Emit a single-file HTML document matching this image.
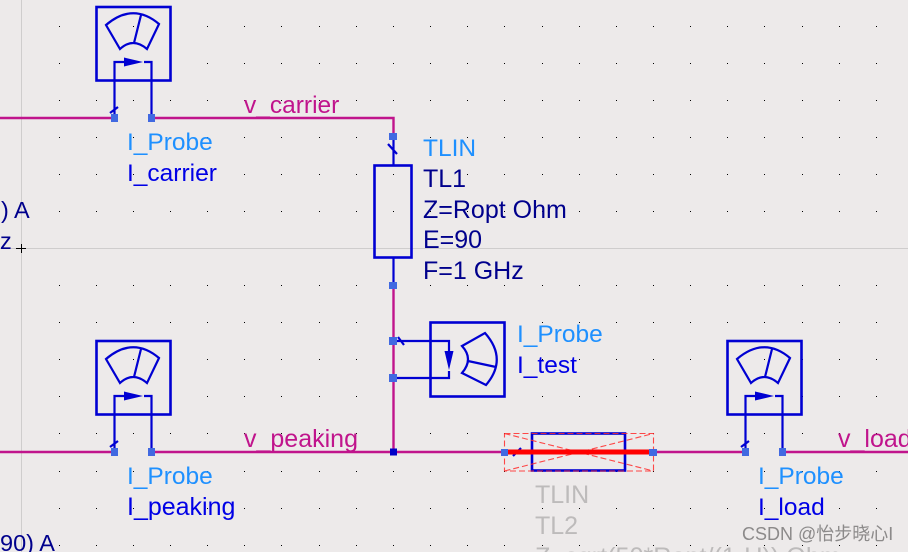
<!DOCTYPE html>
<html><head><meta charset="utf-8"><style>
html,body{margin:0;padding:0;background:#edeaea;width:908px;height:552px;overflow:hidden}
svg{display:block}
text{font-family:"Liberation Sans","Noto Sans CJK SC",sans-serif;font-size:25px}
.l{fill:#1e90ff}.n{fill:#0000e6}.w{fill:#c0148c}.g{fill:#bdbbbb}
.b{fill:none;stroke:#0000d2;stroke-width:2.2}
.x{fill:none;stroke:#0000d2;stroke-width:2.6}
.t{fill:#0000d2}
.nd{fill:#4169e1}
</style></head><body>
<svg width="908" height="552" viewBox="0 0 908 552" xmlns="http://www.w3.org/2000/svg">
<defs>
<path id="row" fill="#000" d="M21 0h1v1h-1zM59 0h1v1h-1zM96 0h1v1h-1zM133 0h1v1h-1zM170 0h1v1h-1zM207 0h1v1h-1zM244 0h1v1h-1zM281 0h1v1h-1zM319 0h1v1h-1zM356 0h1v1h-1zM393 0h1v1h-1zM430 0h1v1h-1zM467 0h1v1h-1zM504 0h1v1h-1zM542 0h1v1h-1zM579 0h1v1h-1zM616 0h1v1h-1zM653 0h1v1h-1zM690 0h1v1h-1zM727 0h1v1h-1zM764 0h1v1h-1zM802 0h1v1h-1zM839 0h1v1h-1zM876 0h1v1h-1z"/>
<g id="probe">
<rect class="x" x="96.500" y="7" width="74" height="73.500"/>
<path class="b" d="M106 25Q133 2 159 24L147 49Q133 37 120 49ZM134 43L141 15"/>
<path class="b" d="M114.500 118V62H124M144 62H151.500V118M110 113L118 107"/>
<path class="t" d="M124 57.500L143 62L124 66.500Z"/>
<rect class="nd" x="111" y="114" width="7" height="8"/>
<rect class="nd" x="148" y="114" width="7" height="8"/>
</g>
</defs>
<use href="#row" y="26"/><use href="#row" y="63"/><use href="#row" y="100"/><use href="#row" y="137"/><use href="#row" y="174"/><use href="#row" y="211"/><use href="#row" y="248"/><use href="#row" y="285"/><use href="#row" y="322"/><use href="#row" y="359"/><use href="#row" y="396"/><use href="#row" y="433"/><use href="#row" y="471"/><use href="#row" y="508"/><use href="#row" y="545"/>
<path d="M21.500 0V552M0 248.500H908" stroke="#cfcdcd" stroke-width="1" fill="none"/>
<path d="M16 248.500H26M21.500 244V253" stroke="#000" stroke-width="1" fill="none"/>

<path d="M0 118H114M151 118H393.500V136M393.500 285V452M0 452H114M151 452H504M653 452H746M783 452H908" fill="none" stroke="#c0148c" stroke-width="2.4"/>

<use href="#probe"/>
<use href="#probe" y="334"/>
<use href="#probe" x="631" y="334"/>

<rect class="x" x="374.500" y="165.500" width="37" height="92"/>
<path class="b" d="M393.500 136V165M393.500 257V285M388 144L397 154"/>
<rect class="nd" x="389" y="133" width="8" height="7"/>
<rect class="nd" x="389" y="282" width="8" height="7"/>

<rect class="x" x="430.500" y="322.500" width="74" height="74"/>
<path class="b" d="M393 341H449V351M449 371V378H393M398 337L404 345"/>
<path class="t" d="M444.500 351H453.500L449 370Z"/>
<path class="b" d="M462 346L485 333Q508 359 486 385L462 373Q474 359 462 346ZM468 361L496 367"/>
<rect class="nd" x="389" y="337" width="8" height="8"/>
<rect class="nd" x="389" y="374" width="8" height="8"/>
<rect x="390" y="448.500" width="7" height="7" fill="#0000c8"/>

<rect class="x" x="532" y="433.500" width="93" height="37"/>
<path d="M513 456L521 448" class="b"/>
<path d="M504.500 433.500H653.500V471H504.500ZM504.500 433.500L653.500 471M504.500 471L653.500 433.500" fill="none" stroke="#ff2a2a" stroke-width="1.1" stroke-dasharray="6 3" opacity=".85"/>
<path d="M504 452H653" stroke="#ff0000" stroke-width="5" fill="none"/>
<rect class="nd" x="501" y="449" width="7" height="7"/>
<rect class="nd" x="649" y="449" width="8" height="7"/>

<text x="244" y="113" class="w" style="font-size:24.500px">v_carrier</text>
<text x="244" y="447" class="w">v_peaking</text>
<text x="838" y="447" class="w">v_load</text>

<text x="127" y="150" class="l" style="font-size:24.500px">I_Probe</text>
<text x="127" y="181" class="n" style="font-size:24.500px">I_carrier</text>
<text x="423" y="156" class="l" style="font-size:24.500px">TLIN</text>
<text x="423" y="187" fill="#00008c">TL1</text>
<text x="423" y="218" fill="#00008c">Z=Ropt Ohm</text>
<text x="423" y="248" fill="#00008c">E=90</text>
<text x="423" y="279" fill="#00008c">F=1 GHz</text>
<text x="517" y="342" class="l" style="font-size:24.500px">I_Probe</text>
<text x="517" y="373" class="n" style="font-size:24.500px">I_test</text>
<text x="127" y="484" class="l" style="font-size:24.500px">I_Probe</text>
<text x="127" y="515" class="n">I_peaking</text>
<text x="758" y="484" class="l" style="font-size:24.500px">I_Probe</text>
<text x="758" y="515" class="n" style="font-size:24.500px">I_load</text>

<text x="535" y="503" class="g">TLIN</text>
<text x="535" y="534" class="g">TL2</text>
<text x="535" y="565" class="g" style="font-size:25.200px">Z=sqrt(50*Ropt/(1-U)) Ohm</text>

<text x="1" y="218" fill="#00008c" style="font-size:23.500px">) A</text>
<text x="0" y="249" fill="#00008c" style="font-size:23.500px">z</text>
<text x="0" y="551" fill="#00008c" style="font-size:23.500px">90) A</text>

<text x="742" y="540" fill="#8c8a8a" style="font-size:18px">CSDN @怡步晓心I</text>
</svg>
</body></html>
